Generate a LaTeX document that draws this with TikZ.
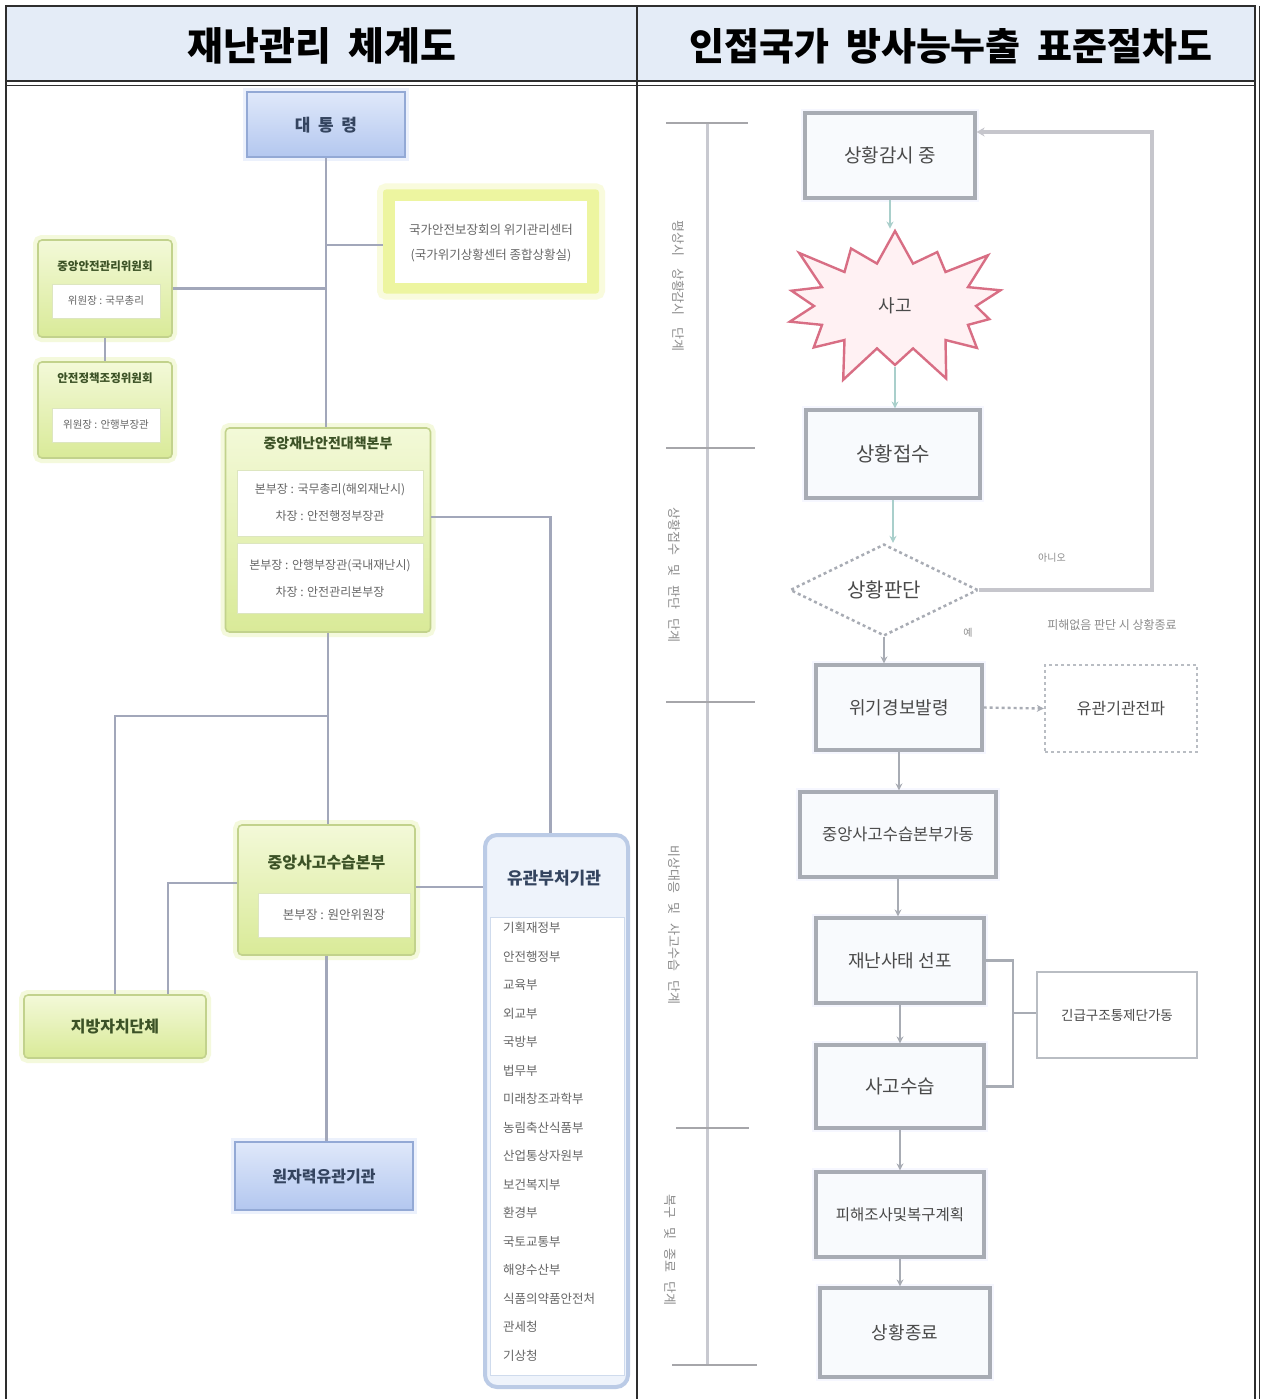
\documentclass[tikz,border=0pt]{standalone}
\usepackage{fontspec}
\setmainfont{Noto Sans CJK KR}
\usetikzlibrary{shapes.geometric,shapes.symbols,arrows.meta,calc}

\definecolor{hdrfill}{HTML}{E4ECF7}
\definecolor{rulec}{HTML}{2E2E2E}
\definecolor{lnkc}{HTML}{A2A7BA}
\definecolor{bluetop}{HTML}{DFE8FA}
\definecolor{bluebot}{HTML}{B3C7EF}
\definecolor{blueline}{HTML}{93A9D5}
\definecolor{bluetxt}{HTML}{34445F}
\definecolor{grntop}{HTML}{F3F9D8}
\definecolor{grnbot}{HTML}{D9EA98}
\definecolor{grnline}{HTML}{C2D28C}
\definecolor{grnglow}{HTML}{F4F9DC}
\definecolor{grntxt}{HTML}{3C5226}
\definecolor{yelfill}{HTML}{EDF5A0}
\definecolor{yelglow}{HTML}{F9FBDD}
\definecolor{bodytxt}{HTML}{666666}
\definecolor{agline}{HTML}{BBCBE6}
\definecolor{agfill}{HTML}{EEF3FB}
\definecolor{flowline}{HTML}{A8ACB4}
\definecolor{flowfill}{HTML}{F8FAFD}
\definecolor{flowtxt}{HTML}{4A4A4A}
\definecolor{tealline}{HTML}{A9CFCB}
\definecolor{loopline}{HTML}{C6C6CC}
\definecolor{burstline}{HTML}{D86E84}
\definecolor{burstfill}{HTML}{FFF1F3}
\definecolor{tlline}{HTML}{C8C9D0}
\definecolor{tltick}{HTML}{A6A6AA}
\definecolor{phasetxt}{HTML}{8C8C8C}

\newcommand\fsz[2]{\fontsize{#1}{#2}\selectfont}

\begin{document}
\begin{tikzpicture}[x=1pt,y=-1pt,
  lnk/.style={draw=lnkc,line width=2.6pt},
  bluebox/.style={draw=blueline,line width=2pt,top color=bluetop,bottom color=bluebot,
    inner sep=0pt,preaction={draw=bluetop!60,line width=8pt}},
  greenbox/.style={draw=grnline,line width=1.6pt,rounded corners=4pt,top color=grntop,
    bottom color=grnbot,inner sep=0pt,preaction={draw=grnglow,line width=10pt}},
  whitepane/.style={draw=grnline!55,line width=0.8pt,fill=white,inner sep=0pt},
  gtitle/.style={text=grntxt,inner sep=0pt,font=\bfseries},
  gsub/.style={text=bodytxt,inner sep=0pt,align=center},
  flowbox/.style={draw=flowline,line width=3.2pt,fill=flowfill,inner sep=0pt,text=flowtxt,
    preaction={draw=flowfill!60!blue!8,line width=8pt}},
  sidebox/.style={draw=flowline!80,line width=2.4pt,fill=white,inner sep=0pt,text=flowtxt},
  flowarrow/.style={draw=flowline,line width=2.4pt,-{Stealth[length=7pt,width=7pt]}},
  tealarrow/.style={draw=tealline,line width=2.4pt,-{Stealth[length=7pt,width=7pt]}},
  phase/.style={text=phasetxt,inner sep=0pt,rotate=-90,font=\fsz{13}{15}},
  agitem/.style={anchor=west,text=bodytxt,inner sep=0pt,font=\fsz{12.5}{14}},
]
\useasboundingbox (0,0) rectangle (1263,1399);
\fill[white] (0,0) rectangle (1263,1399);

% ---------- table frame and header ----------
\fill[hdrfill] (6,6) rectangle (1256,81);
\draw[rulec,line width=2pt] (6,1399) -- (6,6) -- (1256,6);
\draw[rulec,line width=1.3pt] (6,81) -- (1256,81);
\draw[rulec,line width=1.3pt] (6,85.5) -- (1256,85.5);
\draw[rulec,line width=1.1pt] (637,6) -- (637,1399);
\draw[rulec,line width=1.4pt] (1255,6) -- (1255,1399);
\draw[rulec,line width=1.4pt] (1259.5,6) -- (1259.5,1399);

\node (ttlL) at (322,46) {\fsz{39}{44}\bfseries 재난관리\hspace{0.45em}체계도};
\node (ttlR) at (951,46) {\fsz{38}{44}\bfseries 인접국가\hspace{0.45em}방사능누출\hspace{0.45em}표준절차도};

% ---------- left: disaster management structure ----------
\node[bluebox,minimum width=158,minimum height=65] (pres) at (326,125)
  {\fsz{17}{20}\bfseries\color{bluetxt}대\hspace{0.45em}통\hspace{0.45em}령};

% national security office
\node[fill=yelfill,minimum width=216,minimum height=104,rounded corners=3pt,
  preaction={draw=yelglow,line width=12pt}] (nsc) at (491,241.5) {};
\node[fill=white,minimum width=192,minimum height=82,inner sep=0pt] (nscpane) at (491,241.5) {};
\node[gsub,font=\fsz{12.5}{25}] (nsct) at (491,243)
  {국가안전보장회의 위기관리센터\\(국가위기상황센터 종합상황실)};

% committees on the left
\node[greenbox,minimum width=134,minimum height=97] (ccsm) at (105,288.5) {};
\node[gtitle,font=\fsz{11.5}{13}\bfseries] (ccsmt) at (105,266) {중앙안전관리위원회};
\node[whitepane,minimum width=108,minimum height=34] (ccsmp) at (106,301) {};
\node[gsub,font=\fsz{10.5}{12}] (ccsms) at (106,301) {위원장 : 국무총리};

\node[greenbox,minimum width=134,minimum height=96] (spcc) at (105,410) {};
\node[gtitle,font=\fsz{11.5}{13}\bfseries] (spcct) at (105,378) {안전정책조정위원회};
\node[whitepane,minimum width=108,minimum height=34] (spccp) at (106,425) {};
\node[gsub,font=\fsz{10.5}{12}] (spccs) at (106,425) {위원장 : 안행부장관};

% central disaster and safety countermeasure headquarters
\node[greenbox,minimum width=205,minimum height=204] (cdsc) at (328,530) {};
\node[gtitle,font=\fsz{14}{16}\bfseries] (cdsct) at (328,443) {중앙재난안전대책본부};
\node[whitepane,minimum width=186,minimum height=66] (cdscp1) at (330,503.5) {};
\node[gsub,font=\fsz{12}{27}] (cdscs1) at (330,502) {본부장 : 국무총리(해외재난시)\\차장 : 안전행정부장관};
\node[whitepane,minimum width=186,minimum height=70] (cdscp2) at (330,578) {};
\node[gsub,font=\fsz{12}{27}] (cdscs2) at (330,579) {본부장 : 안행부장관(국내재난시)\\차장 : 안전관리본부장};

% central accident handling headquarters
\node[greenbox,minimum width=177,minimum height=130] (csh) at (326.5,890) {};
\node[gtitle,font=\fsz{16}{18}\bfseries] (csht) at (326.5,863) {중앙사고수습본부};
\node[whitepane,minimum width=152,minimum height=44] (cshp) at (334,915) {};
\node[gsub,font=\fsz{12.5}{14}] (cshs) at (334,915) {본부장 : 원안위원장};

\node[greenbox,minimum width=182,minimum height=63] (local) at (115,1026.5)
  {\fsz{16}{18}\bfseries\color{grntxt}지방자치단체};

\node[bluebox,minimum width=178,minimum height=68] (nuc) at (324,1176)
  {\fsz{16}{18}\bfseries\color{bluetxt}원자력유관기관};

% related ministries and agencies
\node[draw=agline,line width=4pt,fill=agfill,rounded corners=12pt,
  minimum width=143,minimum height=552,inner sep=0pt] (agency) at (556.5,1111) {};
\node[text=bluetxt,inner sep=0pt,font=\fsz{17}{19}\bfseries] (agencyt) at (554,878) {유관부처기관};
\node[fill=white,draw=agline!70,line width=1pt,minimum width=134,minimum height=458,
  inner sep=0pt] (agpane) at (557,1146) {};
\foreach \name [count=\i from 0] in {기획재정부,안전행정부,교육부,외교부,국방부,법무부,
  미래창조과학부,농림축산식품부,산업통상자원부,보건복지부,환경부,국토교통부,
  해양수산부,식품의약품안전처,관세청,기상청}
  \node[agitem] (ag\i) at (503,{928+28.5*\i}) {\name};

% connectors of the structure
\draw[lnk] (pres.south) -- (pres.south |- cdsc.north);
\draw[lnk] ($(nsc.west)+(0,3.5)$) -- ($(nsc.west -| pres.south)+(0,3.5)$);
\draw[lnk] (ccsm.east) -- (ccsm.east -| pres.south);
\draw[lnk] (ccsm.south) -- (spcc.north);
\draw[lnk] ($(cdsc.east)+(0,-13)$) -| ($(agency.north)+(-6,0)$);
\draw[lnk] (cdsc.south) -- (cdsc.south |- csh.north);
\coordinate (jloc) at (328,716);
\draw[lnk] (jloc) -| (local.north);
\draw[lnk] ($(csh.west)+(0,-7)$) -| ($(local.north)+(53,0)$);
\draw[lnk] ($(csh.east)+(0,-3)$) -- ($(csh.east -| agency.west)+(0,-3)$);
\draw[lnk] (csh.south) -- (csh.south |- nuc.north);

% ---------- right: standard procedure ----------
% time line with phase marks
\coordinate (tl0) at (707,123);
\coordinate (tl1) at (707,448);
\coordinate (tl2) at (707,702);
\coordinate (tl3) at (707,1128);
\coordinate (tl4) at (707,1365);
\draw[tlline,line width=3pt] (tl0) -- (tl4);
\draw[tltick,line width=2.6pt] ($(tl0)+(-41,0)$) -- ($(tl0)+(41,0)$);
\draw[tltick,line width=2.6pt] ($(tl1)+(-41,0)$) -- ($(tl1)+(48,0)$);
\draw[tltick,line width=2.6pt] ($(tl2)+(-41,0)$) -- ($(tl2)+(48,0)$);
\draw[tltick,line width=2.6pt] ($(tl3)+(-31,0)$) -- ($(tl3)+(42,0)$);
\draw[tltick,line width=2.6pt] ($(tl4)+(-35,0)$) -- ($(tl4)+(50,0)$);
\node[phase] (ph1) at (678,286) {평상시\hspace{0.9em}상황감시\hspace{0.9em}단계};
\node[phase] (ph2) at (674,575) {상황접수\hspace{0.7em}및\hspace{0.7em}판단\hspace{0.7em}단계};
\node[phase] (ph3) at (674,925) {비상대응\hspace{0.7em}및\hspace{0.7em}사고수습\hspace{0.7em}단계};
\node[phase] (ph4) at (670,1250) {복구\hspace{0.7em}및\hspace{0.7em}종료\hspace{0.7em}단계};

% flow boxes
\node[flowbox,minimum width=170,minimum height=85] (mon) at (890,155.5) {\fsz{19}{21}상황감시 중};
\node[starburst,starburst points=14,starburst point height=44pt,
  draw=burstline,line width=2.4pt,fill=burstfill,minimum width=250pt,minimum height=175pt,
  inner sep=0pt,text=flowtxt] (burst) at (895,306) {\fsz{18}{20}사고};
\node[flowbox,minimum width=174,minimum height=88] (rcv) at (893,454) {\fsz{20}{22}상황접수};
\node[diamond,draw=flowline,dashed,line width=2.5pt,fill=white,minimum width=188,
  minimum height=90,inner sep=0pt,text=flowtxt] (judge) at (884,590) {\fsz{20}{22}상황판단};
\node[flowbox,minimum width=166,minimum height=85] (alert) at (899,707.5) {\fsz{18}{20}위기경보발령};
\node[sidebox,dashed,minimum width=152,minimum height=87] (notify) at (1121,708.5) {\fsz{16}{18}유관기관전파};
\node[flowbox,minimum width=196,minimum height=85] (hq) at (898,834.5) {\fsz{16.5}{18}중앙사고수습본부가동};
\node[flowbox,minimum width=168,minimum height=85] (decl) at (900,960.5) {\fsz{18}{20}재난사태 선포};
\node[sidebox,minimum width=160,minimum height=86] (rescue) at (1117,1015) {\fsz{13.5}{15}긴급구조통제단가동};
\node[flowbox,minimum width=168,minimum height=83] (handle) at (900,1086.5) {\fsz{19}{21}사고수습};
\node[flowbox,minimum width=168,minimum height=85] (recov) at (900,1214.5) {\fsz{15.5}{17}피해조사및복구계획};
\node[flowbox,minimum width=170,minimum height=89] (finish) at (905,1332.5) {\fsz{18}{20}상황종료};

% flow connectors
\draw[tealarrow] (mon.south) -- (mon.south |- burst.north);
\draw[tealarrow] (burst.south) -- (burst.south |- rcv.north);
\draw[tealarrow] (rcv.south) -- (rcv.south |- judge.north);
\draw[flowarrow] (judge.south) -- (judge.south |- alert.north);
\coordinate (loopc) at (1152,132);
\draw[draw=loopline,line width=4pt,-{Stealth[length=8pt,width=9pt]}]
  (judge.east) -| (loopc) -- (loopc -| mon.east);
\draw[flowarrow,dashed] (alert.east) -- (notify.west);
\draw[flowarrow] (alert.south) -- (alert.south |- hq.north);
\draw[flowarrow] (hq.south) -- (hq.south |- decl.north);
\draw[flowarrow] (decl.south) -- (decl.south |- handle.north);
\draw[flowarrow] (handle.south) -- (handle.south |- recov.north);
\draw[flowarrow] (recov.south) -- (recov.south |- finish.north);
\coordinate (brk) at (1013,1013);
\draw[draw=flowline,line width=2.4pt] (decl.east) -| (brk) |- (handle.east);
\draw[draw=flowline,line width=2.4pt] (brk) -- (brk -| rescue.west);

% flow labels
\node[text=phasetxt,inner sep=0pt,font=\fsz{10}{12}] (lblno) at (1052,558) {아니오};
\node[text=phasetxt,inner sep=0pt,font=\fsz{10}{12}] (lblyes) at (968,633) {예};
\node[text=phasetxt,inner sep=0pt,font=\fsz{12}{14}] (lblend) at (1112,625) {피해없음 판단 시 상황종료};
\end{tikzpicture}
\end{document}
